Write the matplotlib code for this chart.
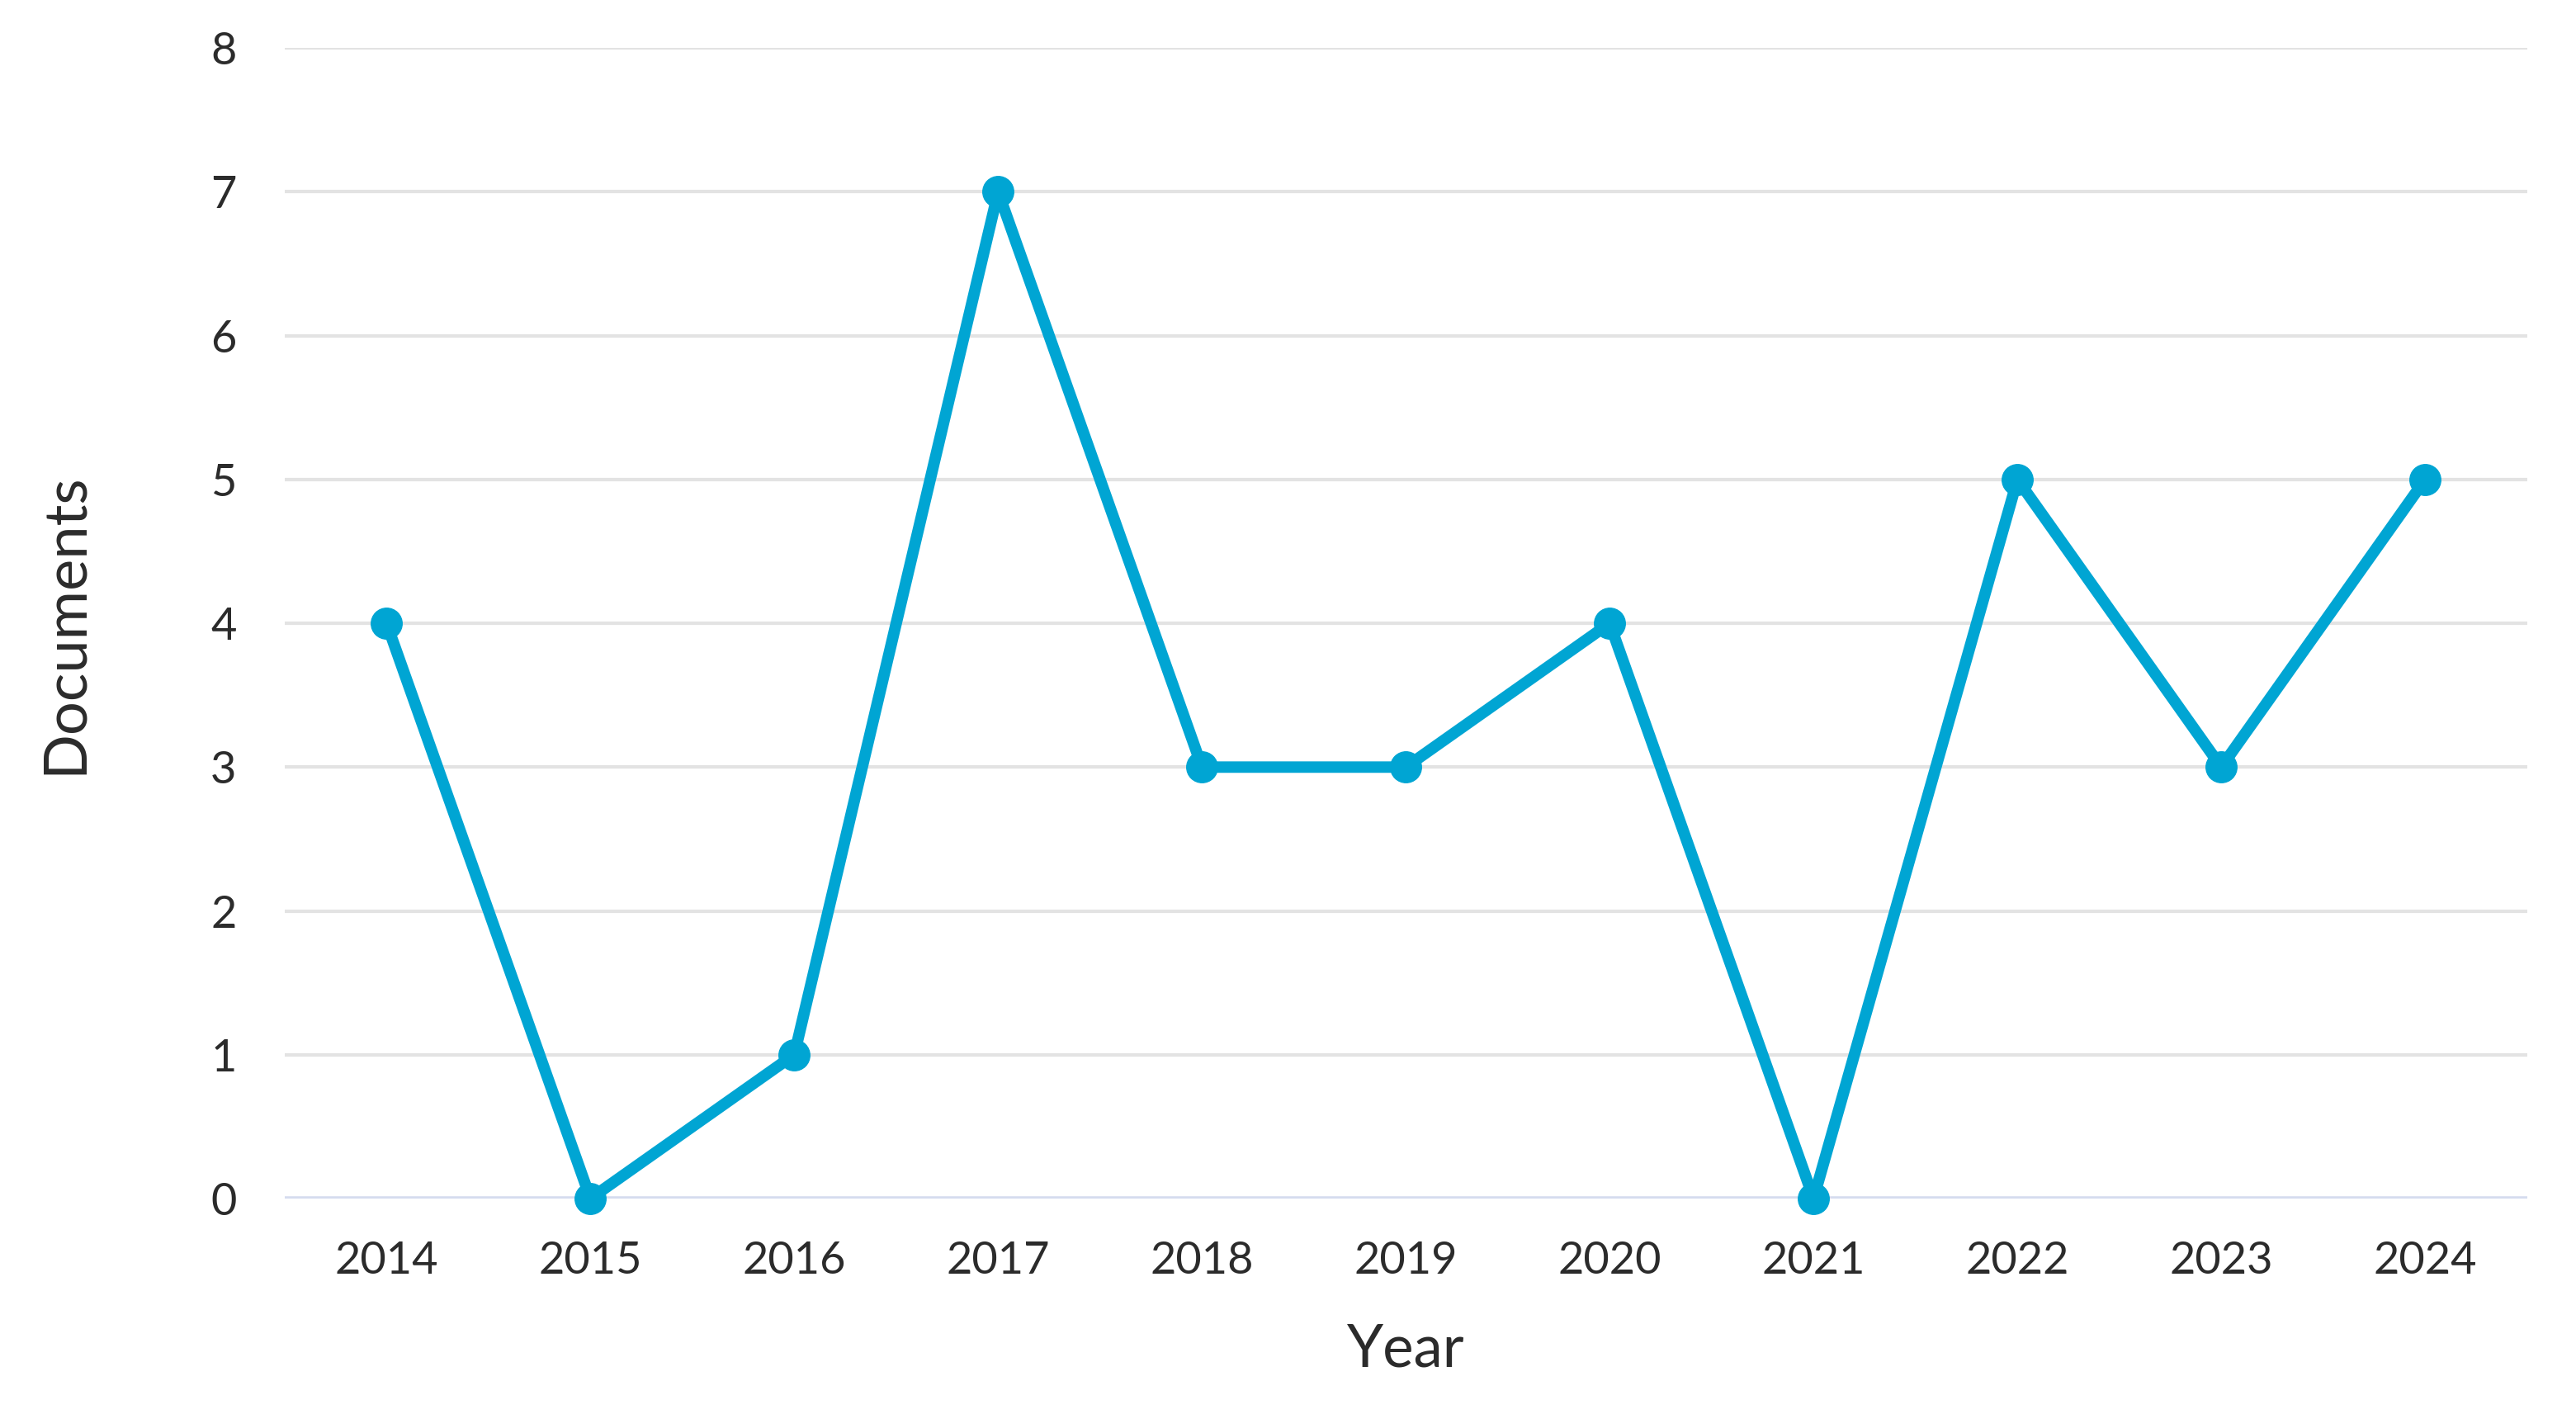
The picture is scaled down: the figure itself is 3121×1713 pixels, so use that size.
import matplotlib
matplotlib.use("Agg")
import matplotlib.pyplot as plt

years = ["2014", "2015", "2016", "2017", "2018", "2019", "2020", "2021", "2022", "2023", "2024"]
documents = [4, 0, 1, 7, 3, 3, 4, 0, 5, 3, 5]
yticks = [0, 1, 2, 3, 4, 5, 6, 7, 8]

plt.rcParams['font.family'] = ['Lato', 'DejaVu Sans']

fig = plt.figure(figsize=(31.21, 17.13), dpi=100)
ax = fig.add_axes([0.1105, 0.1524, 0.8705, 0.8136])

x = list(range(len(years)))
ax.plot(x, documents, color='#00a5d3', linewidth=10, marker='o', markersize=27,
        solid_joinstyle='round', zorder=3, clip_on=False)

ax.set_xlim(-0.5, len(years) - 0.5)
ax.set_ylim(0, 8)
ax.set_yticks(yticks)
ax.set_xticks(x)
ax.set_xticklabels(years)

for y in yticks[1:]:
    ax.axhline(y, color='#e3e3e3', linewidth=3, zorder=1)
ax.axhline(0, color='#d5dcef', linewidth=4, zorder=1)

for s in ax.spines.values():
    s.set_visible(False)
ax.tick_params(axis='both', length=0, labelsize=39, colors='#2b2b2b')
ax.tick_params(axis='x', pad=37)
ax.tick_params(axis='y', pad=42)

ax.set_xlabel("Year", fontsize=51, color='#2b2b2b', labelpad=36)
ax.set_ylabel("Documents", fontsize=52, color='#2b2b2b', labelpad=104)

fig.savefig("out.png", dpi=100, facecolor='white')
